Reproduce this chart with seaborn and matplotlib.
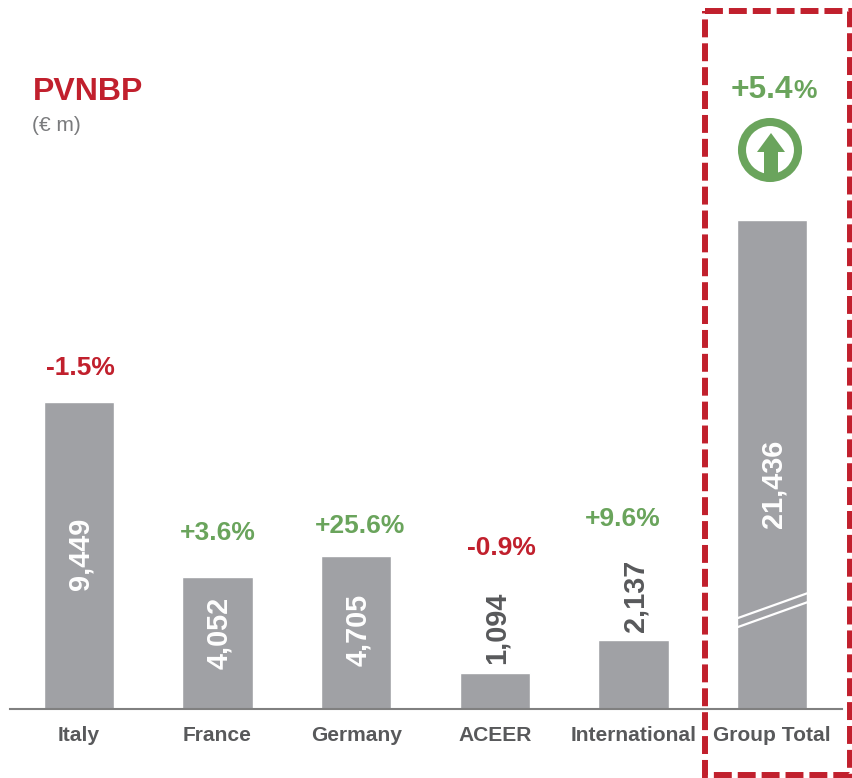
import matplotlib
matplotlib.use("Agg")
import matplotlib.pyplot as plt
from matplotlib.patches import Circle, Polygon, Rectangle
import pandas as pd
import seaborn as sns

categories = ["Italy", "France", "Germany", "ACEER", "International", "Group Total"]
values = [9449, 4052, 4705, 1094, 2137, 21436]
# the group total bar is broken in the chart, so it is drawn shorter than its value
drawn_values = [9449, 4052, 4705, 1094, 2137, 15050]
changes = ["-1.5%", "+3.6%", "+25.6%", "-0.9%", "+9.6%"]

GREY = "#a0a1a5"
DARK = "#58595b"
RED = "#c1202d"
GREEN = "#6aa45c"

sns.set_theme(style="white")
plt.rcParams["font.family"] = ["Liberation Sans", "DejaVu Sans"]

W, H = 852, 778
PX = 0.0325  # pixels per unit
fig = plt.figure(figsize=(W / 100, H / 100), dpi=100)
ax = fig.add_axes([9.5 / W, 1 - 709 / H, 832 / W, 709 / H])

df = pd.DataFrame({"category": categories, "drawn": drawn_values})
sns.barplot(data=df, x="category", y="drawn", color=GREY, saturation=1, width=0.505, ax=ax)
ax.set_xlim(-0.5, 5.5)
ax.set_ylim(0, 709 / PX)
ax.set_xlabel("")
ax.set_ylabel("")
ax.set_yticks([])
ax.tick_params(axis="x", length=0, pad=12, labelsize=15.1, labelcolor=DARK)
for lab in ax.get_xticklabels():
    lab.set_fontweight("bold")
sns.despine(ax=ax, left=True)
ax.spines["bottom"].set_color("#808080")
ax.spines["bottom"].set_linewidth(1.5)

# value labels, rotated, white inside the tall bars
label_y = [554, 633, 630, 628, 596, 484]
label_colors = ["white", "white", "white", DARK, DARK, "white"]
for i, v in enumerate(values):
    ax.text(i + 0.012, (709 - label_y[i]) / PX, f"{v:,}", rotation=90, ha="center", va="center",
            fontsize=20.8, fontweight="bold", color=label_colors[i])

# overlay in pixel coordinates for the annotations
ov = fig.add_axes([0, 0, 1, 1], facecolor="none")
ov.set_xlim(0, W)
ov.set_ylim(H, 0)
ov.axis("off")

ov.text(33, 92, "PVNBP", fontsize=23, fontweight="bold", color=RED, ha="left", va="center")
ov.text(32, 125, "(€ m)", fontsize=15, color="#7a7b7d", ha="left", va="center")

change_x = [80, 218, 360, 501, 623]
change_y = [368, 533, 526, 548, 519]
for c, x, y in zip(changes, change_x, change_y):
    ov.text(x, y, c, fontsize=19, fontweight="bold", ha="center", va="center",
            color=RED if c.startswith("-") else GREEN)

# group total change, percent sign a bit smaller
ov.text(793, 90, "+5.4", fontsize=22.9, fontweight="bold", color=GREEN, ha="right", va="center")
ov.text(793, 91, "%", fontsize=19, fontweight="bold", color=GREEN, ha="left", va="center")

# up arrow icon
ov.add_patch(Circle((770, 150), 28, fill=False, ec=GREEN, lw=5.8))
ov.add_patch(Polygon([(771, 133), (785, 152), (778, 152), (778, 176), (764, 176), (764, 152), (757, 152)],
                     closed=True, fc=GREEN, ec="none"))

# break marks on the group total bar
ov.plot([738, 808], [618, 593], color="white", lw=1.6)
ov.plot([738, 808], [627, 602], color="white", lw=1.6)

# dashed highlight box
ov.add_patch(Rectangle((704.5, 11), 145.5, 764, fill=False, ec=RED, lw=4.3, ls=(0, (3.0, 1.0))))

fig.savefig("out.png", dpi=100)
